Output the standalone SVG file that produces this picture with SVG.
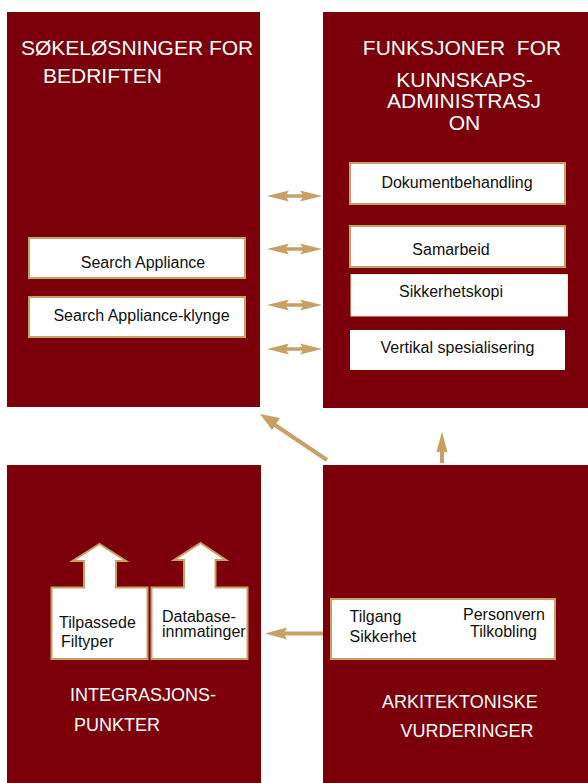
<svg xmlns="http://www.w3.org/2000/svg" width="588" height="783" viewBox="0 0 588 783">
<style>
.panel{fill:#7b0009}
.box{fill:#ffffff;stroke:#c9a064;stroke-width:2}
.box2{fill:#ffffff;stroke:#efe3d2;stroke-width:1}
.box3{fill:#ffffff}
.t{font-family:"Liberation Sans",Arial,sans-serif;font-size:16px;fill:#111111}
.h{font-family:"Liberation Sans",Arial,sans-serif;font-size:21px;fill:#ffffff}
.h2{font-family:"Liberation Sans",Arial,sans-serif;font-size:18px;fill:#ffffff}
.gold{fill:#c9a064}
.line{stroke:#c9a064;stroke-width:4;fill:none}
</style>
<rect width="588" height="783" fill="#ffffff"/>
<g id="panel-sok">
<rect class="panel" x="7" y="12" width="253" height="395"/>
<text class="h" x="21" y="55">SØKELØSNINGER FOR</text>
<text class="h" x="43" y="83">BEDRIFTEN</text>
<g id="search-appliance">
<rect class="box" x="29" y="238" width="216" height="40"/>
<text class="t" x="143" y="268" text-anchor="middle">Search Appliance</text>
</g>
<g id="search-appliance-klynge">
<rect class="box" x="29" y="297" width="216" height="40"/>
<text class="t" x="141.5" y="321" text-anchor="middle">Search Appliance-klynge</text>
</g>
</g>
<g id="panel-funksjoner">
<rect class="panel" x="323" y="12" width="265" height="396"/>
<text class="h" x="462" y="55" text-anchor="middle" xml:space="preserve">FUNKSJONER  FOR</text>
<text class="h" x="464.5" y="87" text-anchor="middle">KUNNSKAPS-</text>
<text class="h" x="464" y="108" text-anchor="middle">ADMINISTRASJ</text>
<text class="h" x="464.5" y="130" text-anchor="middle">ON</text>
<g id="dokumentbehandling">
<rect class="box" x="350" y="163" width="215" height="41"/>
<text class="t" x="457" y="188" text-anchor="middle">Dokumentbehandling</text>
</g>
<g id="samarbeid">
<rect class="box" x="350" y="226" width="215" height="41"/>
<text class="t" x="451" y="255" text-anchor="middle">Samarbeid</text>
</g>
<g id="sikkerhetskopi">
<rect class="box2" x="351" y="274.5" width="216.5" height="41.5"/>
<text class="t" x="451" y="297" text-anchor="middle">Sikkerhetskopi</text>
</g>
<g id="vertikal">
<rect class="box3" x="350" y="330" width="215" height="40"/>
<text class="t" x="457.5" y="353" text-anchor="middle">Vertikal spesialisering</text>
</g>
</g>
<g id="panel-integrasjon">
<rect class="panel" x="7" y="465" width="254" height="318"/>
<g id="tilpassede">
<path class="box" d="M51.5,587.5 H84 V561 H72.5 L99.5,544 L126,561 H116 V587.5 H147.5 V659 H51.5 Z"/>
<text class="t" x="59" y="628">Tilpassede</text>
<text class="t" x="61" y="647">Filtyper</text>
</g>
<g id="database">
<path class="box" d="M151.5,587.5 H184 V560 H174 L200.5,543 L226,560 H215.5 V587.5 H247.5 V659 H151.5 Z"/>
<text class="t" x="162" y="622">Database-</text>
<text class="t" x="162" y="637">innmatinger</text>
</g>
<text class="h2" x="70" y="701">INTEGRASJONS-</text>
<text class="h2" x="74" y="731">PUNKTER</text>
</g>
<g id="panel-arkitektonisk">
<rect class="panel" x="323" y="465" width="265" height="318"/>
<g id="krav">
<rect class="box" x="331" y="599" width="224" height="60"/>
<text class="t" x="349.5" y="622">Tilgang</text>
<text class="t" x="349.5" y="642">Sikkerhet</text>
<text class="t" x="463" y="620">Personvern</text>
<text class="t" x="470" y="637">Tilkobling</text>
</g>
<text class="h2" x="382" y="708">ARKITEKTONISKE</text>
<text class="h2" x="400.5" y="737">VURDERINGER</text>
</g>
<g id="connectors">
<g id="dbl-arrows" class="gold">
<path d="M267,196 L289,190.5 L286.5,194.3 H302.5 L300,190.5 L322,196 L300,201.5 L302.5,197.7 H286.5 L289,201.5 Z"/>
<path d="M267,249 L289,243.5 L286.5,247.3 H302.5 L300,243.5 L322,249 L300,254.5 L302.5,250.7 H286.5 L289,254.5 Z"/>
<path d="M267,305 L289,299.5 L286.5,303.3 H302.5 L300,299.5 L322,305 L300,310.5 L302.5,306.7 H286.5 L289,310.5 Z"/>
<path d="M267,349 L289,343.5 L286.5,347.3 H302.5 L300,343.5 L322,349 L300,354.5 L302.5,350.7 H286.5 L289,354.5 Z"/>
</g>
<line class="line" x1="327" y1="460" x2="272" y2="423"/>
<path class="gold" d="M260,414 L280,418 L272,430 Z"/>
<line class="line" x1="442" y1="463" x2="442" y2="450"/>
<path class="gold" d="M442,431.5 L447.5,452 L436.5,452 Z"/>
<line class="line" x1="323" y1="633.5" x2="284" y2="633.5"/>
<path class="gold" d="M265,633.5 L287,627.5 L284,633.5 L287,639.5 Z"/>
</g>
</svg>
